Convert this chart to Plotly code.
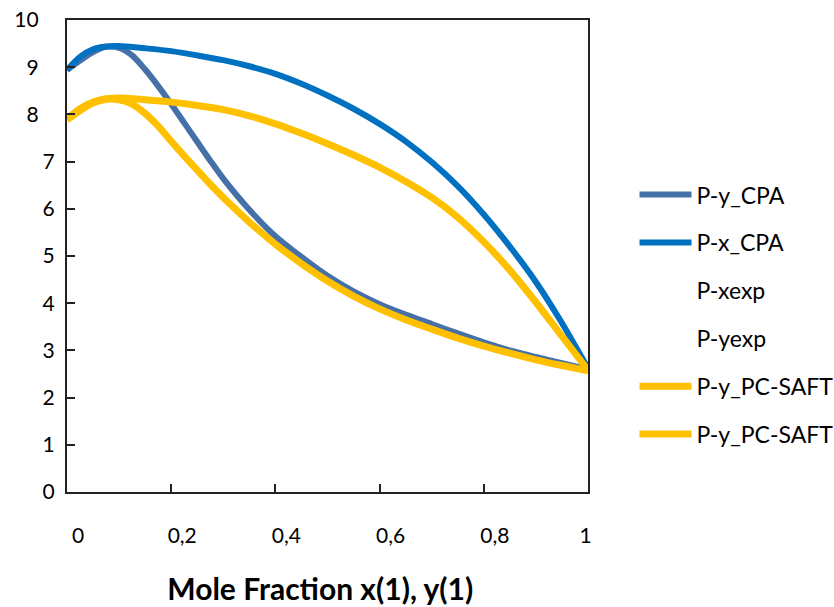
import plotly.graph_objects as go

# P-y_CPA (dew curve, CPA)
x_py_cpa = [0, 0.025, 0.05, 0.075, 0.1, 0.125, 0.15, 0.175, 0.2, 0.225, 0.25, 0.275, 0.3,
            0.35, 0.4, 0.45, 0.5, 0.55, 0.6, 0.65, 0.7, 0.75, 0.8, 0.85, 0.9, 0.95, 1.0]
p_py_cpa = [8.94, 9.14, 9.32, 9.43, 9.41, 9.25, 8.95, 8.6, 8.22, 7.82, 7.42, 7.02, 6.64,
            5.98, 5.42, 4.98, 4.58, 4.25, 3.98, 3.76, 3.56, 3.36, 3.17, 3.0, 2.86, 2.73, 2.6]

# P-x_CPA (bubble curve, CPA)
x_px_cpa = [0, 0.025, 0.05, 0.075, 0.1, 0.15, 0.2, 0.25, 0.3, 0.35, 0.4, 0.45, 0.5, 0.55,
            0.6, 0.65, 0.7, 0.75, 0.8, 0.85, 0.9, 0.95, 1.0]
p_px_cpa = [8.94, 9.22, 9.38, 9.44, 9.45, 9.4, 9.34, 9.25, 9.15, 9.02, 8.86, 8.65, 8.4, 8.12,
            7.8, 7.43, 6.99, 6.48, 5.88, 5.2, 4.45, 3.58, 2.62]

# P-y_PC-SAFT (upper branch)
x_pc_1 = [0, 0.025, 0.05, 0.075, 0.1, 0.15, 0.2, 0.25, 0.3, 0.35, 0.4, 0.45, 0.5, 0.55,
          0.6, 0.65, 0.7, 0.75, 0.8, 0.85, 0.9, 0.95, 1.0]
p_pc_1 = [7.9, 8.12, 8.26, 8.33, 8.35, 8.31, 8.26, 8.19, 8.1, 7.97, 7.8, 7.6, 7.38, 7.14,
          6.88, 6.58, 6.24, 5.82, 5.3, 4.7, 4.02, 3.3, 2.58]

# P-y_PC-SAFT (lower branch)
x_pc_2 = [0, 0.025, 0.05, 0.075, 0.1, 0.125, 0.15, 0.175, 0.2, 0.225, 0.25, 0.275, 0.3,
          0.35, 0.4, 0.45, 0.5, 0.55, 0.6, 0.65, 0.7, 0.75, 0.8, 0.85, 0.9, 0.95, 1.0]
p_pc_2 = [7.88, 8.08, 8.24, 8.32, 8.31, 8.22, 8.02, 7.75, 7.43, 7.12, 6.82, 6.52, 6.24,
          5.72, 5.25, 4.84, 4.47, 4.15, 3.88, 3.65, 3.45, 3.26, 3.09, 2.94, 2.8, 2.68, 2.57]

NB = "\u00a0"
x_ticks = [0, 0.2, 0.4, 0.6, 0.8, 1.0]
x_tick_labels = ["0", "0,2", "0,4", "0,6", "0,8", "1" + NB * 5]
y_ticks = list(range(0, 11))
y_tick_labels = ["0", "1", "2", "3", "4", "5", "6", "7", "8" + NB * 3, "9" + NB * 3, "10" + NB * 3]

FONT = "Lato"
fig = go.Figure()

def add_line(x, y, name, color, width, group):
    fig.add_trace(go.Scatter(x=x, y=y, mode="lines", name=name, legendgroup=group,
                             line=dict(color=color, width=width, shape="spline", smoothing=0.8)))

add_line(x_py_cpa, p_py_cpa, "P-y_CPA", "#4571A8", 6, "g1")
add_line(x_px_cpa, p_px_cpa, "P-x_CPA", "#0070C0", 6, "g2")
fig.add_trace(go.Scatter(x=[None], y=[None], mode="lines", name="P-xexp", legendgroup="g3",
                         line=dict(color="rgba(0,0,0,0)", width=6)))
fig.add_trace(go.Scatter(x=[None], y=[None], mode="lines", name="P-yexp", legendgroup="g4",
                         line=dict(color="rgba(0,0,0,0)", width=6)))
add_line(x_pc_1, p_pc_1, "P-y_PC-SAFT", "#FFC000", 7, "g5")
add_line(x_pc_2, p_pc_2, "P-y_PC-SAFT", "#FFC000", 7, "g6")

fig.update_layout(
    width=834, height=607,
    margin=dict(l=67, r=246, t=20, b=115),
    paper_bgcolor="white", plot_bgcolor="white",
    font=dict(family=FONT, size=20, color="black"),
    showlegend=True,
    legend=dict(xref="container", x=0.7608, xanchor="left", y=0.6755, yanchor="top",
                font=dict(family=FONT, size=23, color="black"),
                itemwidth=52, tracegroupgap=15, bgcolor="rgba(0,0,0,0)"),
    xaxis=dict(range=[0, 1], tickmode="array", tickvals=x_ticks, ticktext=x_tick_labels,
               ticks="inside", ticklen=8, tickwidth=2, tickcolor="#222",
               showline=True, linecolor="#222", linewidth=2, mirror=True, automargin=False,
               showgrid=False, zeroline=False, ticklabelstandoff=24, ticklabelshift=11,
               tickfont=dict(family=FONT, size=21),
               title=dict(text="<b>Mole Fraction x(1), y(1)" + NB * 2 + "</b>", standoff=33,
                          font=dict(family=FONT, size=30))),
    yaxis=dict(range=[0, 10], tickmode="array", tickvals=y_ticks, ticktext=y_tick_labels,
               ticks="inside", ticklen=8, tickwidth=2, tickcolor="#222",
               showline=True, linecolor="#222", linewidth=2, mirror=True, automargin=False,
               showgrid=False, zeroline=False, ticklabelstandoff=6,
               tickfont=dict(family=FONT, size=21)),
)

fig.write_html("out.html")
